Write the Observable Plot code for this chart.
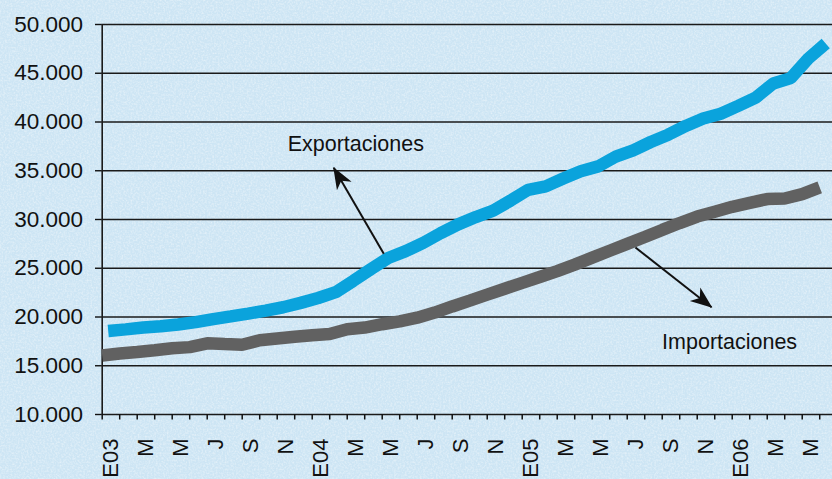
<!DOCTYPE html>
<html><head><meta charset="utf-8">
<script src="https://cdn.jsdelivr.net/npm/d3@7"></script>
<script src="https://cdn.jsdelivr.net/npm/@observablehq/plot@0.6"></script>
<style>
html,body{margin:0;padding:0;background:#d0e7f5;overflow:hidden}
#chart svg{display:block}
</style>
</head><body><div id="chart"></div>
<script>
// Monthly values, Jan 2003 – Jun 2006
const exportaciones = [18560,18730,18920,19060,19230,19470,19780,20060,20350,20650,21000,21450,
  21950,22550,23700,24900,26050,26750,27600,28600,29500,30250,30900,31950,
  33050,33400,34200,34950,35450,36450,37100,37950,38700,39600,40350,40850,
  41650,42500,43950,44500,46500,48050];
const importaciones = [16050,16260,16420,16590,16790,16910,17300,17220,17150,17620,17800,17970,
  18130,18250,18750,18920,19260,19550,19930,20450,21080,21680,22290,22900,
  23500,24100,24700,25370,26090,26800,27500,28200,28930,29640,30300,30800,
  31300,31700,32100,32150,32600,33300];
const xTickLabels = ["E03","M","M","J","S","N","E04","M","M","J","S","N",
  "E05","M","M","J","S","N","E06","M","M"];
const yTicks = [10000,15000,20000,25000,30000,35000,40000,45000,50000];
const annotations = [
  {label:"Exportaciones", x:14.49, y:37710},
  {label:"Importaciones", x:35.85, y:17400}
];
const arrows = [
  {x1:16.09, y1:26480, x2:13.23, y2:35300},
  {x1:30.47, y1:27130, x2:34.82, y2:21000}
];

const expData = exportaciones.map((v,i)=>({i, v}));
const impData = importaciones.map((v,i)=>({i, v}));
const monthTicks = importaciones.map((_,i)=>i);
const labelTicks = xTickLabels.map((_,k)=>2*k+0.5);
const fmt = d => d3.format(",")(d).replace(/,/g,".");

function stealth(color) {
  const m = d3.create("svg:marker")
    .attr("viewBox","-22 -9 24 18")
    .attr("markerWidth",24).attr("markerHeight",18)
    .attr("markerUnits","userSpaceOnUse")
    .attr("orient","auto")
    .attr("fill", color).attr("stroke","none");
  m.append("path").attr("d","M1,0 L-21,-8.5 L-15,0 L-21,8.5 Z");
  return m.node();
}

const plot = Plot.plot({
  width:832, height:479,
  marginLeft:101.7, marginRight:0, marginTop:24, marginBottom:65,
  style:{fontFamily:"'Liberation Sans', Arial, Helvetica, sans-serif", background:"transparent", color:"#111", overflow:"visible"},
  x:{domain:[0,41.73], axis:null},
  y:{domain:[10000,50000], axis:null},
  marks:[
    Plot.ruleY(yTicks,{stroke:"#1a1a1a", strokeWidth:1.4}),
    Plot.ruleX([0],{stroke:"#1a1a1a", strokeWidth:1.6}),
    Plot.axisY(yTicks,{tickSize:6.7, tickPadding:12.5, fontSize:22.5, tickFormat:fmt, label:null, strokeWidth:1.4}),
    Plot.axisX(monthTicks,{tickSize:5.5, tickFormat:()=>"", label:null, strokeWidth:1.5}),
    Plot.axisX(labelTicks,{tickSize:0, tickPadding:24, tickRotate:-90, fontSize:22, label:null,
      tickFormat:d=>xTickLabels[Math.round((d-0.5)/2)]}),
    Plot.line(impData,{x:"i", y:"v", stroke:"#616161", strokeWidth:12.5, strokeLinejoin:"miter", strokeLinecap:"butt"}),
    Plot.line(expData,{x:"i", y:"v", dx:6, stroke:"#0aa3dc", strokeWidth:12.5, strokeLinejoin:"miter", strokeLinecap:"butt"}),
    Plot.link(arrows,{x1:"x1", y1:"y1", x2:"x2", y2:"y2", stroke:"#111", strokeWidth:2, markerEnd:stealth}),
    Plot.text(annotations,{x:"x", y:"y", text:"label", fontSize:21.5, fill:"#111"})
  ]
});

// speckled paper-like background texture behind the chart
const svg = d3.select(plot);
const defs = svg.insert("defs", ":first-child");
const f = defs.append("filter").attr("id","speckle").attr("x",0).attr("y",0).attr("width","100%").attr("height","100%");
f.append("feTurbulence").attr("type","fractalNoise").attr("baseFrequency",0.55).attr("numOctaves",2).attr("seed",3);
f.append("feColorMatrix").attr("type","matrix")
  .attr("values","0 0 0 0 1  0 0 0 0 1  0 0 0 0 1  1.6 0 0 0 -0.62");
svg.insert("rect","defs + *").attr("width",832).attr("height",479).attr("fill","#cde5f4");
svg.insert("rect","rect + *").attr("width",832).attr("height",479).attr("filter","url(#speckle)").attr("opacity",0.55);

document.getElementById("chart").appendChild(plot);
</script>
</body></html>
